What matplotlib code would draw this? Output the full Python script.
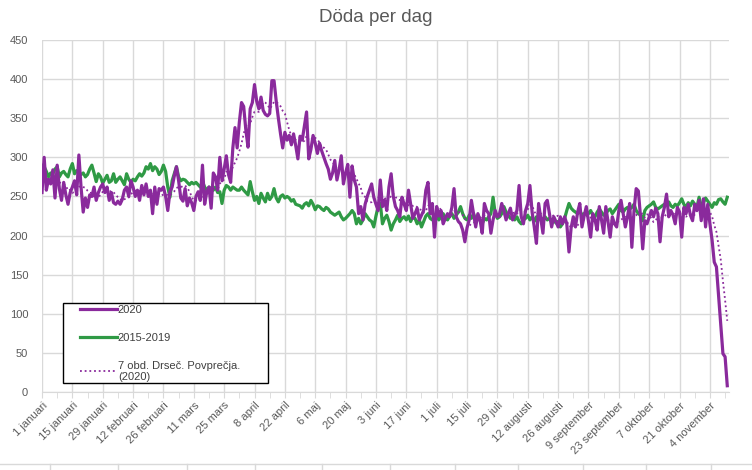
import matplotlib
matplotlib.use("Agg")
import matplotlib.pyplot as plt
import matplotlib.transforms as mtransforms
from matplotlib.lines import Line2D
from matplotlib.patches import Rectangle
from matplotlib.ticker import FixedLocator, MultipleLocator
import pandas as pd

plt.rcParams['font.family'] = ['Liberation Sans', 'DejaVu Sans']

# daily deaths 2020, 1 januari .. 12 november
deaths_2020 = [
    255, 300, 258, 272, 266, 284, 248, 290, 260, 245, 268, 252, 240, 255,
    262, 270, 252, 303, 262, 230, 248, 236, 252, 250, 262, 245, 255, 262,
    266, 255, 262, 245, 255, 242, 240, 244, 240, 246, 258, 262, 250, 270,
    262, 250, 258, 245, 264, 252, 266, 250, 258, 228, 262, 240, 260, 258,
    262, 250, 232, 256, 262, 276, 288, 270, 248, 244, 260, 238, 248, 242,
    232, 250, 256, 245, 290, 240, 256, 262, 235, 280, 275, 258, 300, 270,
    285, 302, 278, 268, 312, 338, 312, 345, 370, 365, 335, 313, 362, 370,
    393, 372, 362, 377, 360, 355, 353, 356, 398, 398, 372, 350, 330, 312,
    332, 322, 328, 316, 330, 315, 298, 327, 322, 340, 358, 298, 310, 328,
    318, 305, 318, 308, 300, 292, 285, 272, 280, 296, 271, 284, 302, 266,
    280, 291, 249, 289, 271, 262, 228, 237, 220, 240, 250, 258, 266, 249,
    240, 232, 271, 237, 245, 232, 262, 279, 250, 237, 232, 224, 249, 240,
    232, 258, 240, 222, 228, 235, 220, 226, 232, 258, 268, 228, 241, 198,
    237, 225, 232, 215, 222, 228, 224, 236, 260, 224, 218, 215, 207, 192,
    210, 220, 245, 228, 211, 228, 220, 203, 241, 232, 228, 203, 220, 232,
    224, 228, 241, 232, 220, 228, 235, 220, 226, 232, 264, 224, 215, 232,
    241, 264, 230, 211, 190, 241, 222, 203, 241, 245, 228, 211, 224, 218,
    211, 224, 215, 224, 215, 179, 210, 224, 211, 230, 241, 211, 225, 237,
    218, 198, 228, 220, 207, 237, 220, 203, 237, 218, 198, 224, 215, 211,
    232, 245, 228, 211, 224, 241, 185, 232, 260, 257, 224, 183, 219, 215,
    224, 232, 224, 235, 228, 192, 224, 236, 253, 224, 232, 226, 215, 236,
    230, 198, 236, 228, 240, 226, 219, 240, 232, 245, 219, 247, 211, 240,
    215, 194, 166, 160, 123, 86, 49, 45, 8,
]

# average 2015-2019
deaths_avg = [
    290, 288, 282, 275, 280, 279, 285, 288, 275, 280, 282, 278, 275, 285,
    292, 279, 283, 280, 278, 280, 275, 278, 285, 290, 280, 269, 279, 275,
    267, 272, 277, 268, 270, 279, 268, 272, 275, 270, 265, 279, 272, 268,
    272, 270, 275, 279, 276, 280, 288, 285, 292, 283, 288, 285, 278, 282,
    290, 282, 262, 249, 270, 279, 288, 275, 270, 272, 271, 268, 265, 268,
    266, 268, 265, 262, 269, 262, 258, 262, 260, 258, 262, 255, 256, 241,
    258, 264, 262, 258, 262, 260, 258, 258, 262, 258, 255, 252, 269, 256,
    245, 250, 241, 254, 248, 243, 254, 246, 250, 260, 248, 243, 250, 252,
    248, 250, 248, 244, 246, 240, 239, 238, 235, 240, 242, 238, 245, 240,
    233, 238, 237, 234, 232, 236, 234, 230, 228, 226, 228, 230, 224, 220,
    222, 225, 228, 232, 228, 215, 222, 215, 220, 228, 224, 220, 218, 211,
    225, 237, 241, 215, 222, 226, 218, 207, 215, 220, 226, 218, 222, 224,
    220, 225, 218, 224, 222, 215, 220, 211, 218, 225, 228, 222, 220, 224,
    226, 220, 224, 228, 222, 220, 225, 228, 222, 226, 230, 237, 228, 222,
    220, 226, 222, 228, 220, 226, 220, 215, 222, 220, 224, 228, 249, 228,
    222, 224, 228, 237, 230, 226, 222, 224, 220, 224, 218, 215, 220, 222,
    226, 220, 224, 218, 224, 220, 222, 218, 224, 220, 222, 218, 220, 216,
    218, 211, 215, 222, 232, 241, 235, 232, 230, 228, 232, 226, 228, 230,
    228, 232, 226, 224, 230, 234, 230, 226, 228, 232, 234, 228, 232, 236,
    240, 232, 230, 234, 236, 234, 236, 240, 232, 228, 226, 219, 232, 236,
    238, 240, 243, 236, 234, 236, 238, 240, 242, 243, 238, 236, 240, 238,
    242, 247, 240, 236, 242, 238, 244, 240, 236, 249, 238, 242, 248, 244,
    240, 236, 242, 240, 246, 247, 243, 240, 249,
]

tick_labels = [
    "1 januari", "15 januari", "29 januari", "12 februari", "26 februari",
    "11 mars", "25 mars", "8 april", "22 april", "6 maj", "20 maj", "3 juni",
    "17 juni", "1 juli", "15 juli", "29 juli", "12 augusti", "26 augusti",
    "9 september", "23 september", "7 oktober", "21 oktober", "4 november",
]

PURPLE = "#8a2a9c"
GREEN = "#2f9a45"
GRID = "#d9d9d9"
TEXT = "#595959"

days = list(range(len(deaths_2020)))
# 7-day trailing moving average, like the excel trendline
moving_avg = pd.Series(deaths_2020).rolling(7).mean()

fig = plt.figure(figsize=(7.52, 4.70), dpi=100)
ax = fig.add_axes([42 / 752, 1 - 392 / 470, 687 / 752, 352 / 470])

l1, = ax.plot(days, deaths_2020, color=PURPLE, lw=2.3, solid_joinstyle="round", zorder=3)
l2, = ax.plot(days, deaths_avg, color=GREEN, lw=2.3, solid_joinstyle="round", zorder=2)
l3, = ax.plot(days, moving_avg, color=PURPLE, lw=1.3, ls=(0, (1, 1.6)), zorder=4)

ax.set_xlim(0, 316.8)
ax.set_ylim(0, 450)
ax.yaxis.set_major_locator(MultipleLocator(50))
ax.xaxis.set_major_locator(FixedLocator([14 * i for i in range(len(tick_labels))]))
ax.xaxis.set_minor_locator(FixedLocator([7 + 14 * i for i in range(len(tick_labels))]))
ax.set_xticklabels(tick_labels, rotation=45, ha="right", rotation_mode="anchor")
# excel puts the end of the label a little right of the tick
shift = mtransforms.ScaledTranslation(0.05, 0, fig.dpi_scale_trans)
for lab in ax.get_xticklabels():
    lab.set_transform(lab.get_transform() + shift)

ax.grid(True, which="major", color=GRID, lw=1)
ax.set_axisbelow(True)
for side in ["top", "right", "left"]:
    ax.spines[side].set_visible(False)
ax.spines["bottom"].set_color(GRID)
ax.tick_params(axis="y", length=0, pad=10, labelsize=8, labelcolor=TEXT)
ax.tick_params(axis="x", which="both", length=4, color=GRID, labelsize=8,
               labelcolor=TEXT, pad=2)

fig.text(0.5, 1 - 18 / 470, "Döda per dag", ha="center", va="center",
         fontsize=13.5, color=TEXT)

# legend box drawn separately so the entries can sit inset like in excel
ax.add_patch(Rectangle((21 / 687, 9 / 352), 205 / 687, 80 / 352, transform=ax.transAxes,
                       facecolor="white", edgecolor="black", lw=1, zorder=5))
leg = ax.legend([l1, l2, l3], ["2020", "2015-2019", "7 obd. Drseč. Povprečja.\n(2020)"],
                loc="upper left", bbox_to_anchor=(38 / 687, 87 / 352),
                fontsize=8, frameon=False, handlelength=3.3,
                handletextpad=0.1, labelspacing=1.6, borderpad=0, borderaxespad=0)
leg.set_zorder(6)
for t in leg.get_texts():
    t.set_color("#404040")

# pieces of the table frame under the chart
fig.add_artist(Line2D([0, 1], [1 - 464 / 470] * 2, color=GRID, lw=1))
for xp in [50, 118, 187, 255, 322, 390, 455, 518, 583, 646, 711]:
    fig.add_artist(Line2D([xp / 752] * 2, [0, 1 - 464 / 470], color=GRID, lw=1))

fig.savefig("out.png", dpi=100)
